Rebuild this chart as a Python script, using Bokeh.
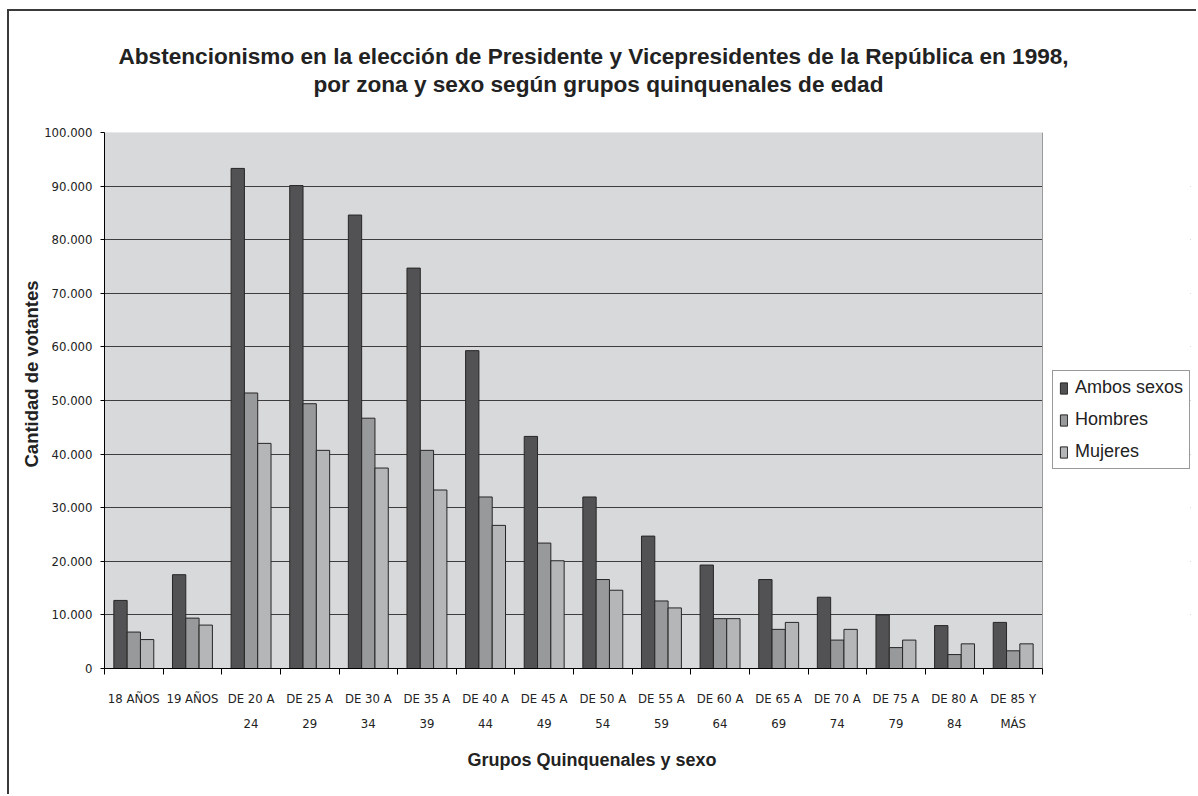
import numpy as np
from bokeh.plotting import figure
from bokeh.models import (ColumnDataSource, Range1d, FixedTicker, Title, Legend,
                          LegendItem, BoxAnnotation, Span)
from bokeh.transform import dodge
from bokeh.embed import file_html
from bokeh.resources import INLINE

categories = ["18 AÑOS", "19 AÑOS", "DE 20 A\n24", "DE 25 A\n29", "DE 30 A\n34",
              "DE 35 A\n39", "DE 40 A\n44", "DE 45 A\n49", "DE 50 A\n54",
              "DE 55 A\n59", "DE 60 A\n64", "DE 65 A\n69", "DE 70 A\n74",
              "DE 75 A\n79", "DE 80 A\n84", "DE 85 Y\nMÁS"]
ambos = [12700, 17500, 93300, 90100, 84600, 74700, 59300, 43300, 32000,
         24700, 19300, 16600, 13300, 10000, 8000, 8600]
hombres = [6800, 9400, 51400, 49400, 46700, 40700, 32000, 23400, 16600,
           12600, 9300, 7300, 5300, 3900, 2600, 3300]
mujeres = [5400, 8100, 42000, 40700, 37400, 33300, 26700, 20100, 14600,
           11300, 9300, 8600, 7300, 5300, 4600, 4600]
series_names = ["Ambos sexos", "Hombres", "Mujeres"]
y_ticks = list(range(0, 100001, 10000))
y_max = 100000

title_line1 = "Abstencionismo en la elección de Presidente y Vicepresidentes de la República en 1998,"
title_line2 = "por zona y sexo según grupos quinquenales de edad"
y_title = "Cantidad de votantes"
x_title = "Grupos Quinquenales y sexo"

tick_font = "DejaVu Sans Condensed"
sans = "Liberation Sans"
ink = "#222222"

n = len(categories)
x_centers = np.arange(n) + 0.5
source = ColumnDataSource(dict(x=x_centers, ambos=ambos, hombres=hombres, mujeres=mujeres))

# plot area spans page x 104..1042 for the categories; the frame is widened
# to 1190 so the legend can sit at its right on white.
x_end = n * (1190 - 104) / (1042 - 104)

p = figure(width=1189, height=785, output_backend="svg", toolbar_location=None,
           x_range=Range1d(0, x_end), y_range=Range1d(0, y_max),
           min_border_left=95, min_border_right=8, min_border_top=121,
           min_border_bottom=128)
p.styles = {"margin-left": "7px", "margin-top": "9px",
            "border-left": "2px solid #3a3a3a", "border-top": "2px solid #3a3a3a"}
p.background_fill_color = "white"
p.border_fill_color = "white"
p.outline_line_color = None

# grey plot area
p.add_layout(BoxAnnotation(left=0, right=n, bottom=0, top=y_max, fill_color="#D8D9DB",
                           fill_alpha=1.0, line_color="#9a9a9a", line_width=1,
                           level="image"))

# grid
p.xgrid.visible = False
p.ygrid.grid_line_color = "#3e3e3e"
p.ygrid.grid_line_width = 1
p.ygrid.ticker = FixedTicker(ticks=y_ticks)

# white cover hiding gridlines right of the plot area
p.add_layout(BoxAnnotation(left=n, fill_color="white", fill_alpha=1.0, line_color=None,
                           level="underlay"))
p.add_layout(Span(location=n, dimension="height", line_color="#9a9a9a", line_width=1,
                  level="underlay"))

bw = 0.227
colors = ["#525254", "#98999B", "#B5B6B8"]
renderers = []
for off, col, c in zip([-bw, 0, bw], ["ambos", "hombres", "mujeres"], colors):
    r = p.vbar(x=dodge("x", off), top=col, width=bw, bottom=0, source=source,
               fill_color=c, line_color="#262626", line_width=1)
    renderers.append(r)

# y axis
p.yaxis.ticker = FixedTicker(ticks=y_ticks)
p.yaxis.major_label_overrides = {t: (f"{t:,}".replace(",", ".")) for t in y_ticks}
p.yaxis.axis_line_color = "black"
p.yaxis.major_tick_line_color = "black"
p.yaxis.major_tick_out = 4
p.yaxis.major_tick_in = 0
p.yaxis.minor_tick_line_color = None
p.yaxis.major_label_text_font = tick_font
p.yaxis.major_label_text_font_size = "13px"
p.yaxis.major_label_text_color = ink
p.yaxis.major_label_standoff = 8

# x axis
p.xaxis.bounds = (0, n)
p.xaxis.ticker = FixedTicker(ticks=list(x_centers), minor_ticks=list(range(n + 1)))
p.xaxis.major_label_overrides = {float(x): c for x, c in zip(x_centers, categories)}
p.xaxis.axis_line_color = "black"
p.xaxis.major_tick_line_color = None
p.xaxis.major_tick_out = 0
p.xaxis.major_tick_in = 0
p.xaxis.minor_tick_line_color = "black"
p.xaxis.minor_tick_out = 6
p.xaxis.minor_tick_in = 0
p.xaxis.major_label_text_font = tick_font
p.xaxis.major_label_text_font_size = "13px"
p.xaxis.major_label_text_color = ink
p.xaxis.major_label_standoff = 16
p.xaxis.major_label_text_line_height = 1.7

# titles (closest to the frame first)
p.add_layout(Title(text=title_line2, align="left", offset=209, text_font=sans,
                   text_font_size="22.6px", text_font_style="bold", text_color=ink,
                   standoff=71), "above")
p.add_layout(Title(text=title_line1, align="left", offset=14, text_font=sans,
                   text_font_size="22.6px", text_font_style="bold", text_color=ink,
                   standoff=-68), "above")
p.add_layout(Title(text=x_title, align="left", offset=363, text_font=sans,
                   text_font_size="18px", text_font_style="bold", text_color=ink,
                   standoff=27), "below")
p.add_layout(Title(text=y_title, align="left", offset=201, text_font=sans,
                   text_font_size="18.5px", text_font_style="bold", text_color=ink,
                   standoff=0), "left")

# legend
items = [LegendItem(label=s, renderers=[r]) for s, r in zip(series_names, renderers)]
legend = Legend(items=items, location=(948, 199), border_line_color="#333333",
                border_line_width=1, background_fill_color="white",
                background_fill_alpha=1.0,
                label_text_font=sans, label_text_font_size="18px",
                label_text_color=ink, glyph_width=9, glyph_height=14,
                label_height=20, spacing=11, padding=6, label_standoff=7, margin=0)
p.add_layout(legend)

open("out.html", "w").write(file_html(p, INLINE))
